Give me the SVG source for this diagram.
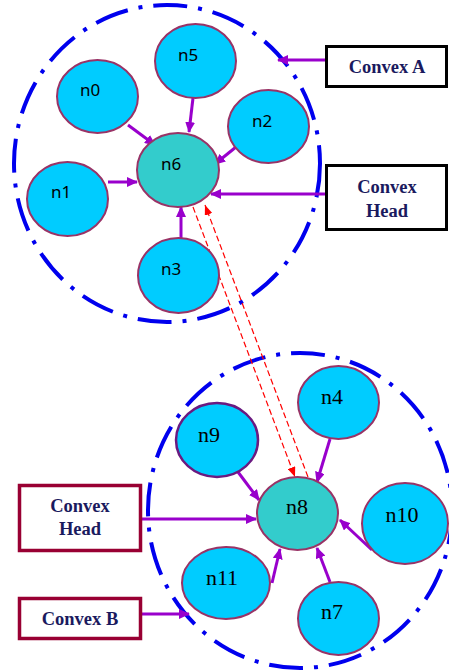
<svg xmlns="http://www.w3.org/2000/svg" width="449" height="670" viewBox="0 0 449 670">
<style>
.hull{fill:none;stroke:#0000ee;stroke-width:4;stroke-dasharray:34 11 4 11}
.node{fill:#00ccff;stroke:#993366;stroke-width:2}
.head{fill:#33cccc;stroke:#993366;stroke-width:2}
.lblA{font-family:"Noto Sans","DejaVu Sans",sans-serif;font-size:17px;fill:#000;text-anchor:middle}
.lblB{font-family:"Liberation Serif","Times New Roman",serif;font-size:22px;fill:#000;text-anchor:middle}
.box{font-family:"Liberation Serif","Times New Roman",serif;font-size:18.5px;font-weight:bold;fill:#1a1a5e;text-anchor:middle}
.boxA{fill:#fff;stroke:#000;stroke-width:3}
.boxB{fill:#fff;stroke:#990033;stroke-width:3.5}
.arr{stroke:#9900cc;stroke-width:3;fill:none;marker-end:url(#pa)}
.red{stroke:#ff0000;stroke-width:1.2;fill:none;stroke-dasharray:6 3;marker-end:url(#ra)}
</style>
<defs>
<marker id="pa" markerUnits="userSpaceOnUse" markerWidth="11" markerHeight="10" refX="10" refY="5" orient="auto">
<path d="M0,0 L11,5 L0,10 z" fill="#9900cc"/>
</marker>
<marker id="ra" markerUnits="userSpaceOnUse" markerWidth="10" markerHeight="8" refX="10" refY="4" orient="auto">
<path d="M0,0 L10,4 L0,8 z" fill="#ff0000"/>
</marker>
</defs>
<rect width="449" height="670" fill="#fff"/>
<g id="hullA"><ellipse class="hull" cx="167" cy="163.5" rx="153" ry="158.5"/></g>
<g id="hullB"><ellipse class="hull" cx="300" cy="510.5" rx="152" ry="157.5"/></g>
<g id="connectors">
<line class="arr" x1="325" y1="60" x2="278" y2="60"/>
<line class="arr" x1="193" y1="98" x2="189" y2="132"/>
<line class="arr" x1="128" y1="125" x2="155" y2="145"/>
<line class="arr" x1="236" y1="147" x2="215" y2="164"/>
<line class="arr" x1="108" y1="182" x2="137" y2="182"/>
<line class="arr" x1="181" y1="238" x2="181" y2="207"/>
<line class="arr" x1="325" y1="194" x2="211" y2="194"/>
<line class="arr" x1="238" y1="472" x2="259" y2="500"/>
<line class="arr" x1="330" y1="439" x2="317" y2="482"/>
<line class="arr" x1="142" y1="519" x2="256" y2="519"/>
<line class="arr" x1="372" y1="550" x2="340" y2="520"/>
<line class="arr" x1="272" y1="583" x2="280" y2="549"/>
<line class="arr" x1="330" y1="582" x2="317" y2="548"/>
<line class="arr" x1="142" y1="614" x2="189" y2="614"/>
<line class="red" x1="193" y1="207" x2="295" y2="477"/>
<line class="red" x1="308" y1="477" x2="205" y2="205"/>
</g>
<g id="n5"><ellipse class="node" cx="195.5" cy="61" rx="40.5" ry="37"/><text class="lblA" x="188" y="61">n5</text></g>
<g id="n0"><ellipse class="node" cx="97.5" cy="96.5" rx="40.5" ry="36.5"/><text class="lblA" x="90" y="96">n0</text></g>
<g id="n2"><ellipse class="node" cx="268.5" cy="126.5" rx="40.5" ry="36.5"/><text class="lblA" x="262" y="127">n2</text></g>
<g id="n6"><ellipse class="head" cx="178" cy="170" rx="41" ry="37"/><text class="lblA" x="171" y="170">n6</text></g>
<g id="n1"><ellipse class="node" cx="67.5" cy="199" rx="40.5" ry="37"/><text class="lblA" x="61" y="198">n1</text></g>
<g id="n3"><ellipse class="node" cx="178.5" cy="275.5" rx="40.5" ry="37.5"/><text class="lblA" x="171" y="275">n3</text></g>
<g id="n4"><ellipse class="node" cx="338.5" cy="402.5" rx="40.5" ry="36.5"/><text class="lblB" x="332" y="404">n4</text></g>
<g id="n9"><ellipse class="node" cx="217" cy="440" rx="41" ry="37" style="stroke:#6a1a80;stroke-width:2.5"/><text class="lblB" x="209" y="442">n9</text></g>
<g id="n8"><ellipse class="head" cx="297.5" cy="513.5" rx="40.5" ry="36.5"/><text class="lblB" x="297" y="514">n8</text></g>
<g id="n10"><ellipse class="node" cx="405" cy="523.5" rx="43" ry="40.5"/><text class="lblB" x="402" y="522">n10</text></g>
<g id="n11"><ellipse class="node" cx="226" cy="583" rx="44" ry="36"/><text class="lblB" x="222" y="585">n11</text></g>
<g id="n7"><ellipse class="node" cx="338.5" cy="618.5" rx="40.5" ry="36.5"/><text class="lblB" x="332" y="619">n7</text></g>
<g id="convexA"><rect class="boxA" x="326.5" y="46.5" width="120" height="40"/><text class="box" x="387" y="72.5">Convex A</text></g>
<g id="convexHeadA"><rect class="boxA" x="326.5" y="165.5" width="120" height="64"/><text class="box" x="387" y="193">Convex</text><text class="box" x="387" y="217">Head</text></g>
<g id="convexHeadB"><rect class="boxB" x="19.5" y="485.5" width="121" height="65"/><text class="box" x="80" y="512">Convex</text><text class="box" x="80" y="535">Head</text></g>
<g id="convexB"><rect class="boxB" x="19.5" y="598.5" width="121" height="40"/><text class="box" x="80" y="625">Convex B</text></g>
</svg>
